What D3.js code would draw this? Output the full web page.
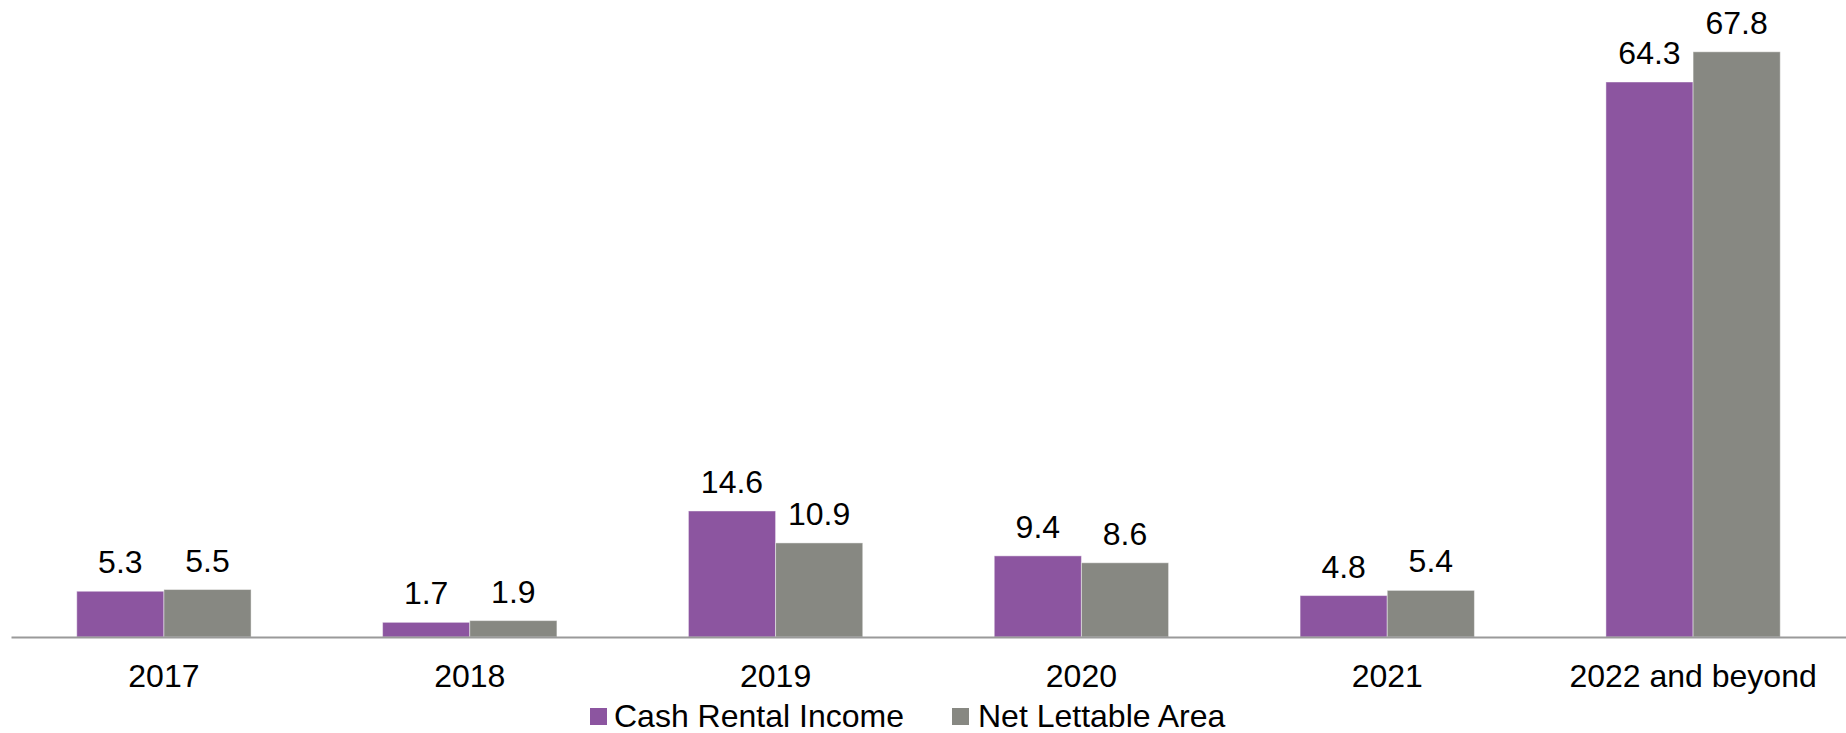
<!DOCTYPE html>
<html>
<head>
<meta charset="utf-8">
<script src="https://cdn.jsdelivr.net/npm/d3@7"></script>
<style>
  body { margin: 0; background: #fff; }
  text { font-family: "Liberation Sans", Arial, sans-serif; }
</style>
</head>
<body>
<svg id="chart" width="1846" height="733"></svg>
<script>
const categories = ['2017', '2018', '2019', '2020', '2021', '2022 and beyond'];
const seriesNames = ['Cash Rental Income', 'Net Lettable Area'];
const cashRentalIncome = [5.3, 1.7, 14.6, 9.4, 4.8, 64.3];
const netLettableArea = [5.5, 1.9, 10.9, 8.6, 5.4, 67.8];
const colors = ['#8c55a0', '#878882'];

const svg = d3.select('#chart');
const axisY = 637;
const fontSize = 32;

const x0 = d3.scaleBand()
  .domain(categories)
  .range([11, 1846])
  .paddingInner(0.43)
  .paddingOuter(0.215);

const x1 = d3.scaleBand()
  .domain(seriesNames)
  .range([0, x0.bandwidth()]);

const y = d3.scaleLinear()
  .domain([0, 73.8])
  .range([axisY, 0]);

const rows = categories.map((c, i) => ({
  category: c,
  values: [cashRentalIncome[i], netLettableArea[i]],
}));

/// bar groups
const groups = svg.selectAll('g.group')
  .data(rows)
  .enter().append('g')
  .attr('class', 'group')
  .attr('transform', (d) => `translate(${x0(d.category)},0)`);

groups.selectAll('rect')
  .data((d) => d.values)
  .enter().append('rect')
  .attr('x', (_, i) => x1(seriesNames[i]))
  .attr('y', (d) => y(d))
  .attr('width', x1.bandwidth())
  .attr('height', (d) => axisY - y(d))
  .attr('fill', (_, i) => colors[i])
  .attr('stroke', 'rgba(255,255,255,0.45)')
  .attr('stroke-width', 1);

groups.selectAll('text')
  .data((d) => d.values)
  .enter().append('text')
  .attr('x', (_, i) => x1(seriesNames[i]) + x1.bandwidth() / 2)
  .attr('y', (d) => y(d) - 18)
  .attr('text-anchor', 'middle')
  .attr('font-size', fontSize)
  .attr('fill', '#000')
  .text((d) => d.toFixed(1));

/// x axis
const xAxis = svg.append('g')
  .attr('transform', `translate(0,${axisY})`)
  .call(d3.axisBottom(x0).tickSize(0).tickPadding(27));

xAxis.select('.domain')
  .attr('stroke', '#9a9a9a')
  .attr('stroke-width', 2);

xAxis.selectAll('text')
  .attr('font-size', fontSize)
  .attr('font-family', '"Liberation Sans", Arial, sans-serif')
  .attr('fill', '#000');

/// legend
const legendX = [590, 952];
const legend = svg.selectAll('g.legend')
  .data(seriesNames)
  .enter().append('g')
  .attr('class', 'legend')
  .attr('transform', (_, i) => `translate(${legendX[i]},716)`);

legend.append('rect')
  .attr('x', 0)
  .attr('y', -8)
  .attr('width', 17)
  .attr('height', 17)
  .attr('fill', (_, i) => colors[i]);

legend.append('text')
  .attr('x', (_, i) => (i === 0 ? 24 : 26))
  .attr('y', 11)
  .attr('font-size', fontSize)
  .attr('fill', '#000')
  .text((d) => d);
</script>
</body>
</html>
